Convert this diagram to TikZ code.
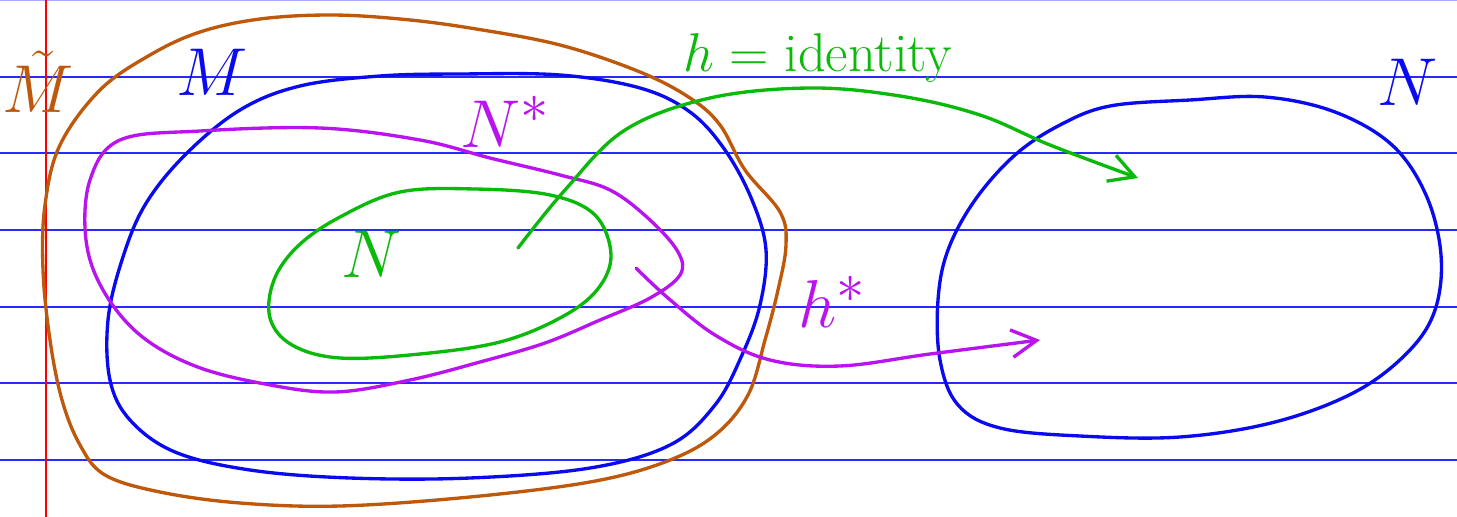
\documentclass[tikz,border=0pt]{standalone}
\usepackage{amsmath,amssymb}
\usepackage{xcolor}
\usetikzlibrary{arrows.meta,positioning,calc}

\definecolor{inkbrown}{RGB}{190,88,10}
\definecolor{inkblue}{RGB}{10,10,240}
\definecolor{inkgreen}{RGB}{10,185,10}
\definecolor{inkpurple}{RGB}{185,20,240}
\definecolor{rule}{RGB}{40,40,255}

\tikzset{
	pen/.style={line width=1.9pt, line cap=round, line join=round},
	paperline/.style={rule, line width=0.6pt},
	hand/.style={font=\Huge, scale=1.55},
	tip/.style={-{Straight Barb[length=5mm, width=5.5mm, line width=1.9pt]}}
}

\begin{document}
\begin{tikzpicture}[x=0.02cm, y=-0.02cm]
	\useasboundingbox (0,0) rectangle (1457,517);
	\fill[white] (0,0) rectangle (1457,517);
	
	\draw[rule!40, line width=0.8pt] (0,0) -- (1457,0);
	\foreach \y in {77,153,230,307,383,460}
		\draw[paperline] (0,\y) -- (1457,\y);
	\draw[red, line width=0.6pt] (46,0) -- (46,517);
	
	\draw[pen, inkbrown] plot[smooth cycle, tension=0.6] coordinates {
		(60,145) (100,90) (150,55) (200,32) (260,19) (330,15) (400,19) (470,28)
		(560,45) (640,72) (690,98) (720,125) (745,170) (780,212) (786,245)
		(778,290) (765,340) (748,395) (715,435) (665,462) (590,482) (470,497)
		(340,506) (240,503) (160,492) (105,475) (80,445) (62,400) (50,340)
		(43,270) (45,205)};
	
	\draw[pen, inkblue] plot[smooth cycle, tension=0.6] coordinates {
		(300,86) (380,76) (460,74) (560,75) (640,88) (690,112) (725,150)
		(752,200) (766,250) (760,305) (742,355) (715,405) (670,445) (590,468)
		(470,478) (350,478) (250,470) (175,452) (130,420) (110,380) (108,320)
		(122,260) (145,205) (185,155) (240,110)};
	
	\draw[pen, inkpurple] plot[smooth cycle, tension=0.6] coordinates {
		(120,140) (200,131) (320,128) (420,140) (490,158) (560,175) (610,190)
		(650,220) (678,252) (680,275) (650,298) (600,320) (545,343) (480,362)
		(410,380) (335,392) (265,384) (195,366) (140,335) (103,290) (86,240)
		(90,180)};
	
	\draw[pen, inkgreen] plot[smooth cycle, tension=0.6] coordinates {
		(400,192) (475,189) (550,195) (595,215) (611,255) (597,290) (560,318)
		(500,342) (420,354) (340,358) (292,345) (270,318) (274,280) (298,246)
		(340,217)};
	
	\draw[pen, inkblue] plot[smooth cycle, tension=0.6] coordinates {
		(1060,125) (1110,106) (1190,100) (1265,97) (1335,112) (1392,145)
		(1426,195) (1441,255) (1435,310) (1408,352) (1355,392) (1275,422)
		(1180,437) (1080,436) (1000,428) (958,405) (940,360) (938,300)
		(948,250) (975,200) (1015,155)};
	
	\coordinate (hfrom) at (518,248);
	\coordinate (hto) at (1138,178);
	\draw[pen, inkgreen, tip] plot[smooth, tension=0.6] coordinates {
		(hfrom) (565,190) (625,130) (710,98) (810,88) (900,96) (980,115)
		(1050,145) (hto)};
	
	\coordinate (hsfrom) at (636,268);
	\coordinate (hsto) at (1040,340);
	\draw[pen, inkpurple, tip] plot[smooth, tension=0.6] coordinates {
		(hsfrom) (668,298) (715,335) (770,360) (840,366) (930,354) (hsto)};
	
	\node[hand, inkbrown] (mtilde) at (38,82) {$\tilde{M}$};
	\node[hand, inkblue] (mlabel) at (212,72) {$M$};
	\node[hand, inkpurple] (nstar) at (505,122) {$N^{*}$};
	\node[hand, inkgreen] (nlabel) at (372,254) {$N$};
	\node[font=\Huge, scale=1.25, inkgreen] (hlabel) at (818,58) {$h=\text{identity}$};
	\node[hand, inkblue] (nright) at (1408,82) {$N$};
	\node[hand, inkpurple] (hstar) at (832,302) {$h^{*}$};
\end{tikzpicture}
\end{document}
